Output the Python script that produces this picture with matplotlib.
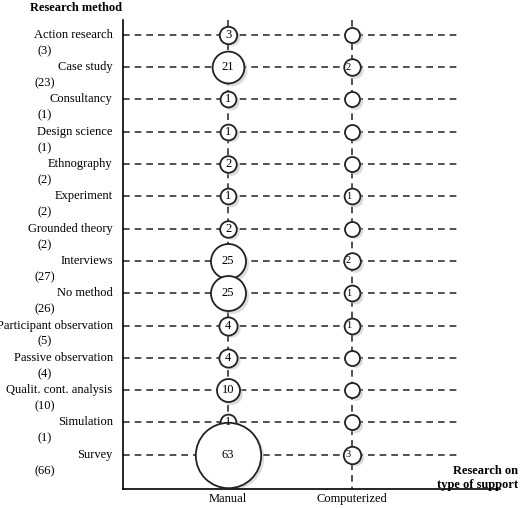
import matplotlib.pyplot as plt

methods = ["Action research", "Case study", "Consultancy", "Design science", "Ethnography",
           "Experiment", "Grounded theory", "Interviews", "No method", "Participant observation",
           "Passive observation", "Qualit. cont. analysis", "Simulation", "Survey"]
totals = [3, 23, 1, 1, 2, 2, 2, 27, 26, 5, 4, 10, 1, 66]
manual = [3, 21, 1, 1, 2, 1, 2, 25, 25, 4, 4, 10, 1, 63]
computerized = [0, 2, 0, 0, 0, 1, 0, 2, 1, 1, 0, 0, 0, 3]
columns = ["Manual", "Computerized"]

plt.rcParams['font.family'] = ['Liberation Serif', 'DejaVu Serif']
fig = plt.figure(figsize=(5.2, 5.08), dpi=100)
W, H = 520, 508
ax = fig.add_axes([123 / W, 1 - 489 / H, 377 / W, 469 / H])
ax.set_xlim(0.153, 3.19)
ax.set_ylim(14.06, -0.46)
for s in ["top", "right"]:
    ax.spines[s].set_visible(False)
ax.spines["left"].set_linewidth(1.2)
ax.spines["bottom"].set_linewidth(1.2)
ax.set_yticks([])
ax.set_xticks([1, 2])
ax.set_xticklabels(columns, fontsize=9)
ax.tick_params(axis="x", length=0, pad=3)

n = len(methods)
for i in range(n):
    ax.plot([0.153, 2.87], [i, i], color="#333333", lw=1.2, dashes=(4, 3), zorder=1)
for x in [1, 2]:
    ax.plot([x, x], [-0.46, 14.06], color="#333333", lw=1.2, dashes=(4, 3), zorder=1)

def radius_px(v):
    return 7.5 + 0.4 * v

for col, vals in enumerate([manual, computerized]):
    x = col + 1
    for i, v in enumerate(vals):
        r = radius_px(v) * 72 / 100  # points
        ax.scatter([x + 0.02], [i + 0.08], s=(2 * r) ** 2, color="#bbbbbb", alpha=0.5,
                   linewidths=0, zorder=2)
        ax.scatter([x], [i], s=(2 * r) ** 2, facecolor="white", edgecolor="#222222",
                   linewidths=1.3, zorder=3)
        if col == 0:
            ax.text(x, i, str(v), ha="center", va="center", fontsize=9, zorder=4)
        elif v > 0:
            ax.text(x - 0.03, i, str(v), ha="center", va="center", fontsize=7.5, zorder=4)

for i, (m, t) in enumerate(zip(methods, totals)):
    ax.text(0.07, i, m, ha="right", va="center", fontsize=9, clip_on=False)
    ax.text(-0.476, i + 0.5, f"({t})", ha="center", va="center", fontsize=9, clip_on=False)

fig.text(30 / W, 1 - 8 / H, "Research method", fontsize=9, fontweight="bold", va="center")
fig.text(518 / W, 1 - 478 / H, "Research on\ntype of support", fontsize=9, fontweight="bold",
         ha="right", va="center", linespacing=1.3)

fig.savefig("out.png", dpi=100)
